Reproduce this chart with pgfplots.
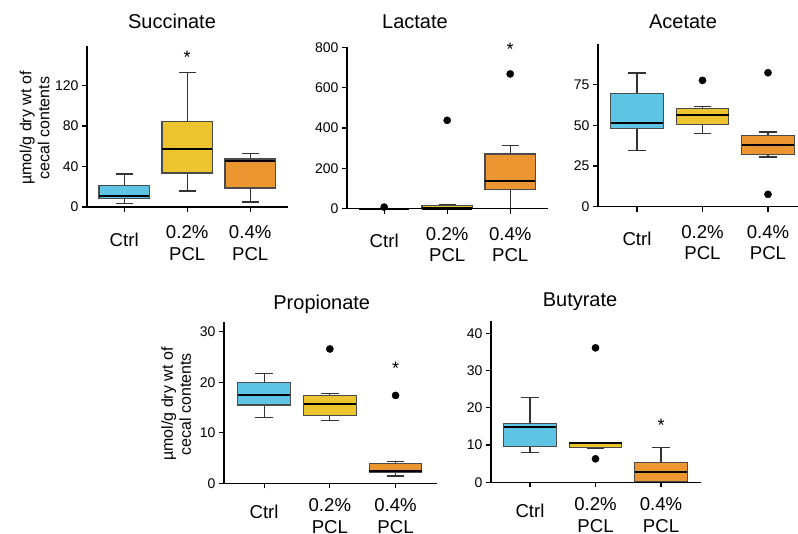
\documentclass[border=0pt]{standalone}
\usepackage{fontspec}
\setmainfont{Liberation Sans}
\usepackage{pgfplots}
\pgfplotsset{compat=1.18}

\definecolor{cblue}{RGB}{94,196,228}
\definecolor{cyellow}{RGB}{236,196,46}
\definecolor{corange}{RGB}{235,150,48}
\definecolor{edge}{RGB}{75,75,75}

% one panel = one axis, sizes in px of the reference (1px = 1pt)
\pgfplotsset{
  panel/.style={
    scale only axis, axis on top,
    axis x line*=bottom, axis y line*=left,
    axis line style={line width=1.6pt, black},
    tick align=outside,
    major tick length=5pt,
    tick style={line width=1.2pt, black},
    xtick={0,1,2},
    xticklabels={\raisebox{-7pt}[\height]{Ctrl}, 0.2\%\\PCL, 0.4\%\\PCL},
    xticklabel style={align=center, font=\fontsize{18.6}{21.7}\selectfont, anchor=north, yshift=-10pt},
    yticklabel style={font=\fontsize{14}{16}\selectfont},
    /pgf/number format/assume math mode=true,
    ymin=0, clip=false,
    title style={font=\fontsize{20}{22}\selectfont, anchor=base},
    ylabel style={font=\fontsize{16}{18}\selectfont, align=center, anchor=center},
  },
  lowrow/.style={xticklabel style={yshift=3.5pt}},
  whisk/.style={draw=black!80, line width=1.1pt},
  outl/.style={only marks, mark=*, mark size=3.6pt, black},
}
\newcommand{\ylab}{µmol/g dry wt of\\cecal contents}
\tikzset{star/.style={anchor=base, yshift=-10pt, font=\fontsize{18}{18}\selectfont}}

% box at position #1: lower whisker #2, Q1 #3, median #4, Q3 #5, upper whisker #6, fill #7
\newcommand{\bbox}[7]{%
  \pgfmathsetmacro\bxl{#1-0.4}\pgfmathsetmacro\bxr{#1+0.4}%
  \pgfmathsetmacro\cpl{#1-0.135}\pgfmathsetmacro\cpr{#1+0.135}%
  \addplot[whisk] coordinates {(#1,#2) (#1,#3)};
  \addplot[whisk] coordinates {(#1,#5) (#1,#6)};
  \addplot[whisk] coordinates {(\cpl,#2) (\cpr,#2)};
  \addplot[whisk] coordinates {(\cpl,#6) (\cpr,#6)};
  \addplot[fill=#7, draw=edge, line width=1.1pt] coordinates {(\bxl,#3) (\bxr,#3) (\bxr,#5) (\bxl,#5)} -- cycle;
  \addplot[black, line width=2.2pt] coordinates {(\bxl,#4) (\bxr,#4)};
}

\begin{document}
\begin{tikzpicture}
\path[use as bounding box] (0,0) rectangle (798pt,-534pt);

% Succinate
\begin{axis}[panel, at={(87pt,-207pt)}, anchor=south west, width=201pt, height=161pt,
  xmin=-0.59, xmax=2.6, ymax=159, ytick={0,40,80,120},
  title={Succinate}, title style={at={(rel axis cs:0.423,1)}, yshift=11.7pt},
  ylabel={\ylab}, ylabel style={at={(axis description cs:-0.261,0.49)}}]
\bbox{0}{3.7}{8.2}{10.5}{21.4}{32.6}{cblue}
\bbox{1}{15.8}{33.6}{57.6}{84.3}{132.6}{cyellow}
\bbox{2}{4.9}{18.8}{45.4}{47.4}{53.0}{corange}
\node[star] at (axis cs:1,152) {*};
\end{axis}

% Lactate
\begin{axis}[panel, at={(347pt,-208.7pt)}, anchor=south west, width=201pt, height=161.4pt,
  xmin=-0.59, xmax=2.6, ymax=800, ytick={0,200,400,600,800},
  title={Lactate}, title style={at={(rel axis cs:0.338,1)}, yshift=13pt}]
\bbox{0}{0}{0}{0}{1}{2}{cblue}
\bbox{1}{0}{1}{1}{17}{20}{cyellow}
\bbox{2}{0}{96}{137}{271}{312}{corange}
\addplot[outl] coordinates {(0,8) (1,438) (2,668)};
\node[star] at (axis cs:2,808) {*};
\end{axis}

% Acetate
\begin{axis}[panel, at={(598pt,-206.7pt)}, anchor=south west, width=200pt, height=162.4pt,
  xmin=-0.595, xmax=2.458, ymax=100, ytick={0,25,50,75},
  title={Acetate}, title style={at={(rel axis cs:0.425,1)}, yshift=9.3pt}]
\bbox{0}{34.5}{48.2}{51.5}{69.5}{82.3}{cblue}
\bbox{1}{45.3}{50.7}{56.6}{60.5}{61.7}{cyellow}
\bbox{2}{30.6}{32.3}{37.8}{43.9}{46.0}{corange}
\addplot[outl] coordinates {(1,77.8) (2,82.5) (2,7.6)};
\end{axis}

% Propionate
\begin{axis}[panel, lowrow, at={(224pt,-483.3pt)}, anchor=south west, width=213pt, height=161.6pt,
  xmin=-0.61, xmax=2.63, ymax=32, ytick={0,10,20,30},
  title={Propionate}, title style={at={(rel axis cs:0.459,1)}, yshift=6.7pt},
  ylabel={\ylab}, ylabel style={at={(axis description cs:-0.225,0.49)}}]
\bbox{0}{13.0}{15.5}{17.5}{20.0}{21.8}{cblue}
\bbox{1}{12.4}{13.5}{15.7}{17.3}{17.8}{cyellow}
\bbox{2}{1.45}{2.2}{2.45}{3.9}{4.3}{corange}
\addplot[outl] coordinates {(1,26.6) (2,17.4)};
\node[star] at (axis cs:2,23.5) {*};
\end{axis}

% Butyrate
\begin{axis}[panel, lowrow, at={(491pt,-482.3pt)}, anchor=south west, width=210pt, height=161.3pt,
  xmin=-0.595, xmax=2.61, ymax=43.3, ytick={0,10,20,30,40},
  title={Butyrate}, title style={at={(rel axis cs:0.424,1)}, yshift=8.3pt}]
\bbox{0}{8.05}{9.6}{14.9}{15.8}{22.7}{cblue}
\bbox{1}{9.0}{9.3}{10.6}{10.7}{10.7}{cyellow}
\bbox{2}{0.0}{0.2}{2.8}{5.3}{9.3}{corange}
\addplot[outl] coordinates {(1,36.1) (1,6.3)};
\node[star] at (axis cs:2,16.3) {*};
\end{axis}
\end{tikzpicture}
\end{document}
